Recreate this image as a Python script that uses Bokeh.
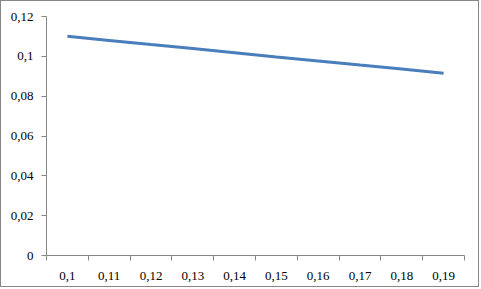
from bokeh.plotting import figure
from bokeh.models import FixedTicker, Range1d
from bokeh.embed import file_html
from bokeh.resources import INLINE

categories = ["0,1", "0,11", "0,12", "0,13", "0,14", "0,15", "0,16", "0,17", "0,18", "0,19"]
values = [0.1101, 0.1080, 0.1059, 0.1039, 0.1018, 0.0997, 0.0977, 0.0956, 0.0936, 0.0915]
y_ticks = [0, 0.02, 0.04, 0.06, 0.08, 0.10, 0.12]
y_labels = ["0", "0,02", "0,04", "0,06", "0,08", "0,1", "0,12"]

n = len(categories)
xs = [i + 0.5 for i in range(n)]

p = figure(width=479, height=287, output_backend="svg", toolbar_location=None,
           x_range=Range1d(0, n), y_range=Range1d(0, 0.12),
           min_border_left=45, min_border_right=16, min_border_top=15, min_border_bottom=33)
p.styles = {"border": "1px solid #878787"}
p.outline_line_color = None
p.xgrid.grid_line_color = None
p.ygrid.grid_line_color = None
p.background_fill_color = "white"
p.border_fill_color = "white"

p.line(xs, values, line_color="#4a7ebb", line_width=3)

xa = p.xaxis[0]
xa.ticker = FixedTicker(ticks=xs, minor_ticks=list(range(n + 1)))
xa.major_label_overrides = {x: c for x, c in zip(xs, categories)}
xa.major_tick_out = 0
xa.major_tick_in = 0
xa.minor_tick_out = 5
xa.minor_tick_in = 0
xa.minor_tick_line_color = "#868686"
xa.axis_line_color = "#868686"
xa.major_label_text_font = "serif"
xa.major_label_text_font_size = "13px"
xa.major_label_text_font_style = "normal"
xa.major_label_text_color = "black"
xa.major_label_standoff = 11

ya = p.yaxis[0]
ya.ticker = FixedTicker(ticks=y_ticks, minor_ticks=[])
ya.major_label_overrides = {t: l for t, l in zip(y_ticks, y_labels)}
ya.major_tick_out = 5
ya.major_tick_in = 0
ya.minor_tick_out = 0
ya.minor_tick_in = 0
ya.major_tick_line_color = "#868686"
ya.axis_line_color = "#868686"
ya.major_label_text_font = "Times New Roman"
ya.major_label_text_font_size = "13px"
ya.major_label_text_font_style = "normal"
ya.major_label_text_color = "black"
ya.major_label_standoff = 8

open("out.html", "w").write(file_html(p, INLINE))
